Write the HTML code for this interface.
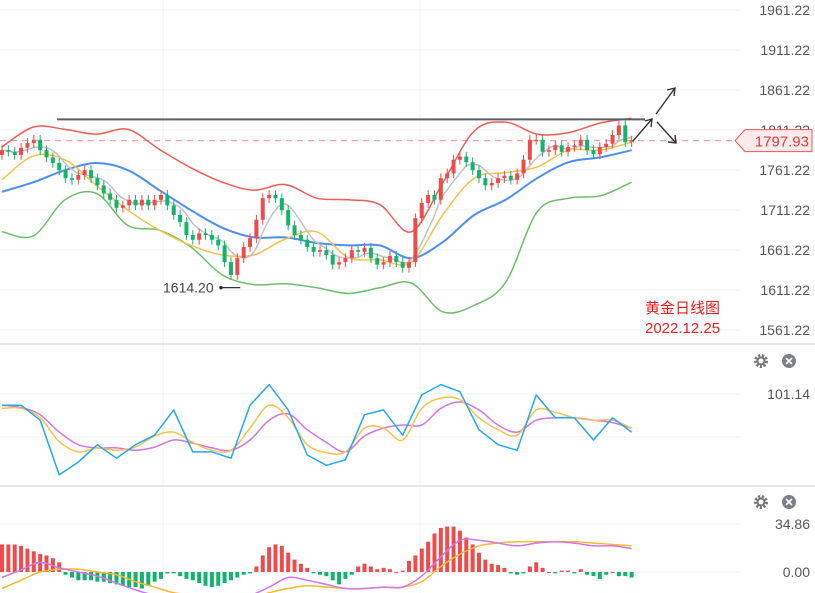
<!DOCTYPE html>
<html><head><meta charset="utf-8"><style>
html,body{margin:0;padding:0;background:#fff;width:815px;height:593px;overflow:hidden}
svg{display:block}
text{font-family:"Liberation Sans","Noto Sans CJK SC",sans-serif}
</style></head><body>
<svg id="c" width="815" height="593" viewBox="0 0 815 593"></svg>
<script>
const closes=[1786,1784,1780,1789,1795,1799,1786,1777,1770,1761,
1751,1749,1755,1761,1751,1742,1732,1724,1714,1717,
1724,1717,1724,1717,1724,1730,1717,1705,1696,1680,
1674,1682,1680,1674,1667,1646,1630,1651,1665,1676,
1699,1726,1730,1726,1711,1692,1680,1674,1665,1659,
1661,1655,1643,1646,1651,1661,1659,1664,1651,1643,
1646,1654,1646,1639,1646,1701,1720,1730,1724,1751,
1757,1774,1778,1771,1761,1751,1742,1745,1751,1754,
1749,1757,1774,1799,1799,1784,1786,1792,1784,1790,
1792,1799,1786,1781,1790,1794,1805,1817,1796,1797.93];
const opens=[1780,1786,1784,1780,1789,1795,1799,1786,1777,1770,
1761,1751,1749,1755,1761,1751,1742,1732,1724,1714,
1717,1724,1717,1724,1717,1724,1730,1717,1705,1696,
1680,1674,1682,1680,1674,1667,1646,1630,1651,1665,
1676,1699,1726,1730,1726,1711,1692,1680,1674,1665,
1659,1661,1655,1643,1646,1651,1661,1659,1664,1651,
1643,1646,1654,1646,1639,1646,1701,1720,1730,1724,
1751,1757,1774,1778,1771,1761,1751,1742,1745,1751,
1754,1749,1757,1774,1799,1799,1784,1786,1792,1784,
1790,1792,1799,1786,1781,1790,1794,1805,1817,1796];
const bandUpper=[1790,1815,1812,1806,1812,1787,1764,1746,1736,1743,1726,1724,1718,1684,1745,1810,1821,1806,1808,1820,1826];
const bandMid=[1734,1746,1761,1770,1761,1736,1711,1689,1677,1677,1670,1667,1667,1651,1671,1705,1724,1751,1771,1777,1786];
const bandLower=[1684,1679,1724,1732,1692,1686,1665,1630,1618,1619,1614,1607,1614,1620,1584,1592,1621,1709,1726,1729,1746];
const ma10=[1749,1779,1774,1742,1711,1686,1667,1655,1655,1675,1684,1652,1649,1646,1705,1751,1758,1765,1786,1786,1796];
const priceTicks=[1961.22,1911.22,1861.22,1811.22,1761.22,1711.22,1661.22,1611.22,1561.22];
const kdjK=[87,87,68,-1,15,37,20,37,49,81,28,28,20,87,113,81,24,11,18,75,81,49,100,113,104,56,37,30,100,71,71,43,71,53];
const kdjD=[83,83,71,41,28,33,30,34,48,53,40,30,30,58,87,71,37,27,28,58,58,43,83,96,94,71,56,49,81,78,71,68,68,58];
const kdjJ=[87,84,75,53,37,33,33,30,34,43,39,33,30,43,68,76,56,40,28,48,58,62,62,83,91,81,62,53,68,71,71,68,65,58];
const macdHist=[20,20,20,19,17,15,13,12,10,7,-2,-4,-6,-6,-6,-7,-7,-8,-9,-10,-11,-11,-12,-10,-7,-5,-1,-1,-3,-5,-6,-8,-10,-11,-10,-8,-6,-4,-2,-1,4,12,18,20,19,14,9,6,3,-1,-2,-3,-6,-9,-5,-2,4,6,4,2,3,2,0,1,8,12,17,22,28,32,33,33,30,25,20,14,9,6,5,3,-1,-2,-1,4,7,3,0,-1,1,1,-1,2,-2,-3,-5,-2,0,-3,-3,-4];
const macdDif=[-4,1.5,7,3,0,-3,-8,-13,-17,-20,-22,-20,-19,-17,-11,-4,-6,-9,-12,-12,-11,-11,-3,11,23,23,21,19,21,22,21,19,19,17];
const macdDea=[-12,-6,0,2,2,0,-2,-7,-11,-15,-17,-19,-20,-19,-15,-12,-10,-11,-12,-12,-11,-11,-7,4,13,19,21,22,22,22,22,21,20,19];
const lastPrice=1797.93, resistance=1824.5, lowPrice=1614.20, lowIdx=37;

const NS="http://www.w3.org/2000/svg", svg=document.getElementById('c');
function mk(t,a,p){const e=document.createElementNS(NS,t);for(const k in a)e.setAttribute(k,a[k]);(p||svg).appendChild(e);return e;}
const xi=i=>2+i*6.36;
const py=p=>10+(1961.22-p)*0.8;
const ky=v=>474-v*0.791;
const my=v=>572-v*1.377;
const bandX=k=>xi(k*99/20);
const subX=k=>xi(k*3);

[163,420].forEach(x=>{const l=mk('line',{x1:x,y1:0,x2:x,y2:593,stroke:'#eef0f4','stroke-width':1});
});
priceTicks.forEach(t=>{const y=py(t);
const g=mk('line',{x1:0,y1:y,x2:740,y2:y,stroke:'#f0f1f4','stroke-width':1});

const tx=mk('text',{x:810,y:y+5,'text-anchor':'end','font-size':14,fill:'#555'});tx.textContent=t.toFixed(2);
});
[394,437,524,572].forEach(y=>{mk('line',{x1:0,y1:y,x2:740,y2:y,stroke:'#f0f1f4'});});
const s1=mk('rect',{x:0,y:343,width:815,height:2,fill:'#e3e6ec'});
const s2=mk('rect',{x:0,y:485,width:815,height:2,fill:'#e3e6ec'});

function line(arr,xf,yf,col,w,name,smooth){
const P=arr.map((v,k)=>[xf(k),yf(v)]);
let d='M'+P[0][0].toFixed(1)+' '+P[0][1].toFixed(1);
for(let k=0;k<P.length-1;k++){
 if(!smooth){d+='L'+P[k+1][0].toFixed(1)+' '+P[k+1][1].toFixed(1);continue;}
 const p0=P[Math.max(0,k-1)],p1=P[k],p2=P[k+1],p3=P[Math.min(P.length-1,k+2)];
 const c1=[p1[0]+(p2[0]-p0[0])/6,p1[1]+(p2[1]-p0[1])/6],c2=[p2[0]-(p3[0]-p1[0])/6,p2[1]-(p3[1]-p1[1])/6];
 d+='C'+c1.map(n=>n.toFixed(1)).join(' ')+' '+c2.map(n=>n.toFixed(1)).join(' ')+' '+p2[0].toFixed(1)+' '+p2[1].toFixed(1);}
const p=mk('path',{d:d,fill:'none',stroke:col,'stroke-width':w,'stroke-linejoin':'round'});
return p;}

const defs=mk('defs',{});const cp=mk('clipPath',{id:'cm'},defs);mk('rect',{x:0,y:0,width:745,height:343},cp);
const cp2=mk('clipPath',{id:'cb'},defs);mk('rect',{x:0,y:487,width:745,height:106},cp2);
const gm=mk('g',{'clip-path':'url(#cm)'});

const dl=mk('line',{x1:0,y1:py(lastPrice),x2:740,y2:py(lastPrice),stroke:'#f4a3a3','stroke-width':1.3,'stroke-dasharray':'6,5'},gm);


gm.appendChild(line(bandUpper,bandX,py,'#ef5b55',1.5,'bollinger-upper',true));
gm.appendChild(line(bandLower,bandX,py,'#6cbf6a',1.5,'bollinger-lower',true));
gm.appendChild(line(bandMid,bandX,py,'#4d8ff0',2,'bollinger-mid',true));
gm.appendChild(line(ma10,bandX,py,'#f8c24a',1.5,'ma10-line',true));
const ma5=closes.map((c,i)=>{const s=closes.slice(Math.max(0,i-4),i+1);return s.reduce((a,b)=>a+b,0)/s.length;});
gm.appendChild(line(ma5,xi,py,'#c2c2c2',1.5,'ma5-line',true));

closes.forEach((c,i)=>{const o=opens[i];const up=c>=o;const col=up?'#ee4b4b':'#12b36b';
const hi=Math.max(o,c)+6, lo=Math.min(o,c)-6;
const g=mk('g',{},gm);
mk('line',{x1:xi(i),x2:xi(i),y1:py(hi),y2:py(lo),stroke:col,'stroke-width':1},g);
const t=py(Math.max(o,c)),b=py(Math.min(o,c));
mk('rect',{x:xi(i)-2,y:t,width:4,height:Math.max(1.5,b-t),fill:col},g);});

const rl=mk('line',{x1:57,y1:py(resistance),x2:645,y2:py(resistance),stroke:'#5c5f66','stroke-width':2});

const ag=mk('g',{stroke:'#333','stroke-width':1.4,fill:'none'});
mk('path',{d:'M633 141 L652 119 M645 121 L652 119 L651 127'},ag);
mk('path',{d:'M656 114 L675 88 M667 90 L675 88 L674 96'},ag);
mk('path',{d:'M657 122 L676 143 M668 142 L676 143 L675 135'},ag);
const ly=py(lowPrice);
const lt=mk('text',{x:163,y:ly+5,'font-size':14,fill:'#444'});lt.textContent=lowPrice.toFixed(2);

mk('line',{x1:221,y1:ly,x2:xi(lowIdx)+3,y2:ly,stroke:'#333','stroke-width':1.2});
mk('circle',{cx:221,cy:ly,r:1.8,fill:'#333'});
const tg=mk('g',{});
const yy=py(lastPrice);
mk('path',{d:`M735 ${yy} L745 ${yy-11} L812 ${yy-11} L812 ${yy+11} L745 ${yy+11} Z`,fill:'#fdeaea',stroke:'#ef5555','stroke-width':1},tg);
const lp=mk('text',{x:809,y:yy+6,'text-anchor':'end','font-size':15,fill:'#e03c3c'},tg);lp.textContent=lastPrice.toFixed(2);
const t1=mk('text',{x:645,y:313,'font-size':15,fill:'#ee1c1c'});t1.textContent='黄金日线图';
const t2=mk('text',{x:645,y:333,'font-size':15,fill:'#ee1c1c'});t2.textContent='2022.12.25';

line(kdjJ,subX,ky,'#d275e6',1.5,'kdj-j-line',true);
line(kdjD,subX,ky,'#f8c24a',1.5,'kdj-d-line',true);
line(kdjK,subX,ky,'#22a8f5',1.5,'kdj-k-line',false);
const kl=mk('text',{x:810,y:399,'text-anchor':'end','font-size':14,fill:'#555'});kl.textContent='101.14';

const gb=mk('g',{'clip-path':'url(#cb)'});
macdHist.forEach((v,i)=>{const r=mk('rect',{x:xi(i)-2,y:Math.min(my(v),my(0)),width:4,height:Math.max(1,Math.abs(my(v)-my(0))),fill:v>=0?'#ee4b4b':'#12b36b'},gb);
});
gb.appendChild(line(macdDea,subX,my,'#f8b830',1.5,'macd-dea-line',true));
gb.appendChild(line(macdDif,subX,my,'#d275e6',1.5,'macd-dif-line',true));
const m1=mk('text',{x:810,y:529,'text-anchor':'end','font-size':14,fill:'#555'});m1.textContent='34.86';
const m2=mk('text',{x:810,y:577,'text-anchor':'end','font-size':14,fill:'#555'});m2.textContent='0.00';

[361,502].forEach(y=>{
const g=mk('g',{});
mk('circle',{cx:761,cy:y,r:5.5,fill:'none',stroke:'#777','stroke-width':3,'stroke-dasharray':'2.2,1.6'},g);
mk('circle',{cx:761,cy:y,r:3.5,fill:'none',stroke:'#777','stroke-width':2},g);
const c=mk('g',{});
mk('circle',{cx:789,cy:y,r:7,fill:'#7a7f88'},c);
mk('path',{d:`M786 ${y-3} L792 ${y+3} M792 ${y-3} L786 ${y+3}`,stroke:'#fff','stroke-width':1.6},c);
});
</script>
</body></html>
